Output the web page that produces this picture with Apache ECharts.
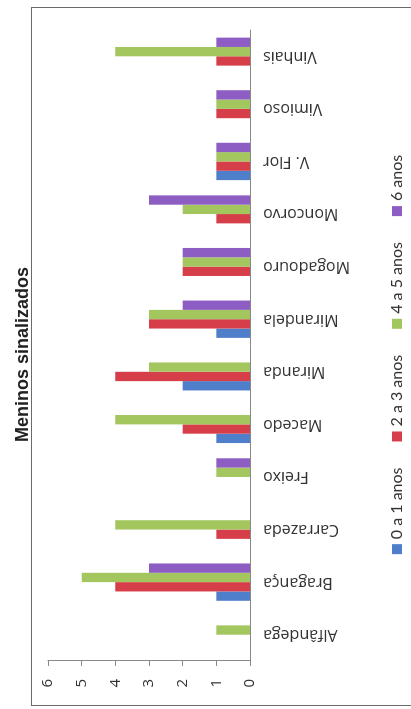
<!DOCTYPE html>
<html>
<head>
<meta charset="utf-8">
<script src="https://cdn.jsdelivr.net/npm/echarts@6/dist/echarts.min.js"></script>
<style>
html, body { margin: 0; padding: 0; background: #fff; overflow: hidden; width: 411px; height: 709px; }
#frame { position: absolute; left: 31px; top: 7px; width: 400px; height: 697px;
  border-left: 1.5px solid #6a6a6a; border-top: 1.5px solid #6a6a6a; border-bottom: 1.5px solid #6a6a6a; }
#c { position: absolute; left: 0; top: 709px; width: 709px; height: 411px;
  transform-origin: 0 0; transform: rotate(-90deg); }
</style>
</head>
<body>
<div id="frame"></div>
<div id="c"></div>
<script>
const categories = ['Alfândega','Bragança','Carrazeda','Freixo','Macedo','Miranda','Mirandela','Mogadouro','Moncorvo','V. Flor','Vimioso','Vinhais'];
const seriesNames = ['0 a 1 anos','2 a 3 anos','4 a 5 anos','6 anos'];
const s0a1 = [0,1,0,0,1,2,1,0,0,1,0,0];
const s2a3 = [0,4,1,0,2,4,3,2,1,1,1,1];
const s4a5 = [1,5,4,1,4,3,3,2,2,1,1,4];
const s6   = [0,3,0,1,0,0,2,2,3,1,1,1];
const valueTicks = [0,1,2,3,4,5,6];
const colors = ['#4F7FCB','#D63F4A','#A3C65E','#8D5DC4'];

const chart = echarts.init(document.getElementById('c'));
const font = 'Open Sans';
chart.setOption({
  animation: false,
  color: colors,
  title: {
    text: 'Meninos sinalizados',
    left: 'center', top: 9,
    textStyle: { fontFamily: 'Liberation Sans', fontWeight: 'bold', fontSize: 18, color: '#222' }
  },
  legend: {
    data: seriesNames,
    left: 'center', top: 384,
    icon: 'rect', itemWidth: 10, itemHeight: 10, itemGap: 26,
    textStyle: { fontFamily: 'Lato', fontSize: 16, color: '#333' }
  },
  grid: { left: 48, right: 30, top: 48, bottom: 161, containLabel: false },
  xAxis: {
    type: 'category', data: categories,
    axisLine: { lineStyle: { color: '#888' } },
    axisTick: { length: 5, lineStyle: { color: '#888' } },
    axisLabel: { rotate: 90, margin: 13, fontFamily: font, fontSize: 16, color: '#333' }
  },
  yAxis: {
    type: 'value', min: valueTicks[0], max: valueTicks[valueTicks.length-1], interval: 1,
    splitLine: { show: false },
    axisLine: { show: true, lineStyle: { color: '#888' } },
    axisTick: { show: true, length: 5, lineStyle: { color: '#888' } },
    axisLabel: { margin: 18, fontFamily: font, fontSize: 15, color: '#333' }
  },
  series: [s0a1, s2a3, s4a5, s6].map((d, i) => ({
    name: seriesNames[i], type: 'bar', data: d,
    barGap: '0%', barCategoryGap: '29%'
  }))
});
</script>
</body>
</html>
